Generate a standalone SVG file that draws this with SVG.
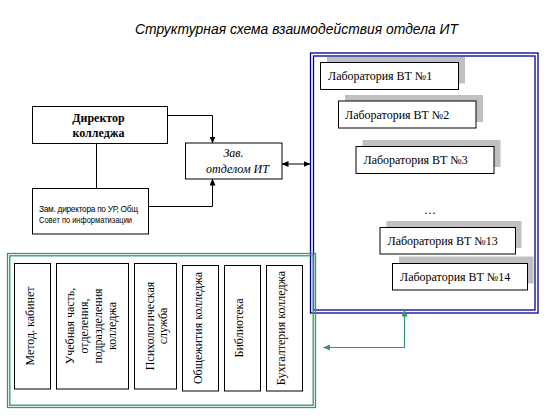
<svg xmlns="http://www.w3.org/2000/svg" width="549" height="416" viewBox="0 0 549 416">
<defs>
<marker id="ab" markerUnits="userSpaceOnUse" markerWidth="7" markerHeight="6" refX="6.5" refY="3" orient="auto-start-reverse"><path d="M0,0 L7,3 L0,6 Z" fill="#000"/></marker>
<marker id="ag" markerUnits="userSpaceOnUse" markerWidth="7" markerHeight="6" refX="6.5" refY="3" orient="auto-start-reverse"><path d="M0,0 L7,3 L0,6 Z" fill="#339966"/></marker>
</defs>
<style>
.box{fill:#fff;stroke:#000;stroke-width:1}
.sh{fill:#c0c0c0}
.t{font-family:"Liberation Serif","Times New Roman",serif;font-size:12px;fill:#000}
.blue{fill:none;stroke:#000099;stroke-width:1.3}
.green{fill:none;stroke:#339966;stroke-width:1.3}
.ln{fill:none;stroke:#000;stroke-width:1}
.gl{fill:none;stroke:#339966;stroke-width:1.2}
</style>
<rect width="549" height="416" fill="#fff"/>
<text x="135" y="34" font-family="'Liberation Sans',Arial,sans-serif" font-style="italic" font-size="14.5" textLength="323" lengthAdjust="spacingAndGlyphs">Структурная схема взаимодействия отдела ИТ</text>

<g id="blue-frame">
<rect class="blue" x="310.5" y="53" width="227.5" height="260"/>
<rect class="blue" x="313.5" y="56" width="221.5" height="254"/>
</g>
<g id="green-frame">
<rect class="green" x="7.5" y="253.5" width="308" height="154"/>
<rect class="green" x="9.8" y="255.8" width="303.4" height="149.4"/>
</g>

<g id="director">
<rect class="box" x="32.5" y="106.5" width="135" height="37"/>
<text class="t" font-weight="bold" text-anchor="middle" x="98.5" y="122">Директор</text>
<text class="t" font-weight="bold" text-anchor="middle" x="98.5" y="136.5">колледжа</text>
</g>
<g id="zam">
<rect class="box" x="32.5" y="188.5" width="116" height="45.5"/>
<text font-family="'Liberation Sans',Arial,sans-serif" font-size="8.3" x="39" y="212" textLength="99" lengthAdjust="spacing">Зам. директора по УР, Общ</text>
<text font-family="'Liberation Sans',Arial,sans-serif" font-size="8.3" x="39" y="222.5" textLength="93" lengthAdjust="spacingAndGlyphs">Совет по информатизации</text>
</g>
<g id="zav">
<rect class="box" x="185.5" y="143" width="96.5" height="36"/>
<text class="t" font-style="italic" font-size="13" text-anchor="middle" x="233.5" y="157">Зав.</text>
<text class="t" font-style="italic" font-size="13" text-anchor="middle" x="237.5" y="172.5">отделом ИТ</text>
</g>

<g id="lab1">
<rect class="sh" x="327" y="57" width="138" height="26.5"/>
<rect class="box" x="320.5" y="62.5" width="138" height="27"/>
<text class="t" x="328" y="80">Лаборатория ВТ №1</text>
</g>
<g id="lab2">
<rect class="sh" x="345" y="95" width="138" height="27"/>
<rect class="box" x="338.5" y="101" width="137.5" height="27"/>
<text class="t" x="345" y="118.5">Лаборатория ВТ №2</text>
</g>
<g id="lab3">
<rect class="sh" x="362.5" y="140" width="138" height="27"/>
<rect class="box" x="356" y="146.5" width="138" height="27"/>
<text class="t" x="363.5" y="164">Лаборатория ВТ №3</text>
</g>
<text class="t" x="424" y="214">…</text>
<g id="lab13">
<rect class="sh" x="386.5" y="221" width="135" height="27"/>
<rect class="box" x="380" y="227.5" width="135.5" height="26.5"/>
<text class="t" x="387.5" y="244.5">Лаборатория ВТ №13</text>
</g>
<g id="lab14">
<rect class="sh" x="399" y="256.5" width="134.5" height="27"/>
<rect class="box" x="392.5" y="263.5" width="135" height="26.5"/>
<text class="t" x="400" y="280.5">Лаборатория ВТ №14</text>
</g>

<g id="metod">
<rect class="box" x="14.5" y="263.5" width="36" height="125.5"/>
<text class="t" text-anchor="middle" transform="translate(33.5,326) rotate(-90)">Метод. кабинет</text>
</g>
<g id="uchebnaya">
<rect class="box" x="56.5" y="263.5" width="72" height="125.5"/>
<text class="t" text-anchor="middle" transform="translate(74,326) rotate(-90)">Учебная часть,</text>
<text class="t" text-anchor="middle" transform="translate(88,326) rotate(-90)">отделения,</text>
<text class="t" text-anchor="middle" transform="translate(102,326) rotate(-90)">подразделения</text>
<text class="t" text-anchor="middle" transform="translate(116,326) rotate(-90)">колледжа</text>
</g>
<g id="psych">
<rect class="box" x="134.5" y="263.5" width="42" height="125.5"/>
<text class="t" text-anchor="middle" transform="translate(153.5,326) rotate(-90)">Психологическая</text>
<text class="t" text-anchor="middle" transform="translate(167,326) rotate(-90)">служба</text>
</g>
<g id="obsch">
<rect class="box" x="182.5" y="265.5" width="36" height="125.5"/>
<text class="t" text-anchor="middle" transform="translate(202,328) rotate(-90)">Общежития колледжа</text>
</g>
<g id="biblio">
<rect class="box" x="224.5" y="265.5" width="36" height="125.5"/>
<text class="t" text-anchor="middle" transform="translate(243.3,328) rotate(-90)">Библиотека</text>
</g>
<g id="buh">
<rect class="box" x="266.5" y="265.5" width="36" height="125.5"/>
<text class="t" text-anchor="middle" transform="translate(285,328) rotate(-90)">Бухгалтерия колледжа</text>
</g>

<g id="connectors">
<path class="ln" d="M96.5,143.5 V188.5"/>
<path class="ln" d="M167.5,115.5 H212.5 V143" marker-end="url(#ab)"/>
<path class="ln" d="M148.5,206.5 H212.5 V179" marker-end="url(#ab)"/>
<path class="ln" d="M282,164 H310" marker-start="url(#ab)" marker-end="url(#ab)"/>
<path class="gl" d="M404.5,310 V347.5 H323.5" marker-start="url(#ag)" marker-end="url(#ag)"/>
</g>
</svg>
